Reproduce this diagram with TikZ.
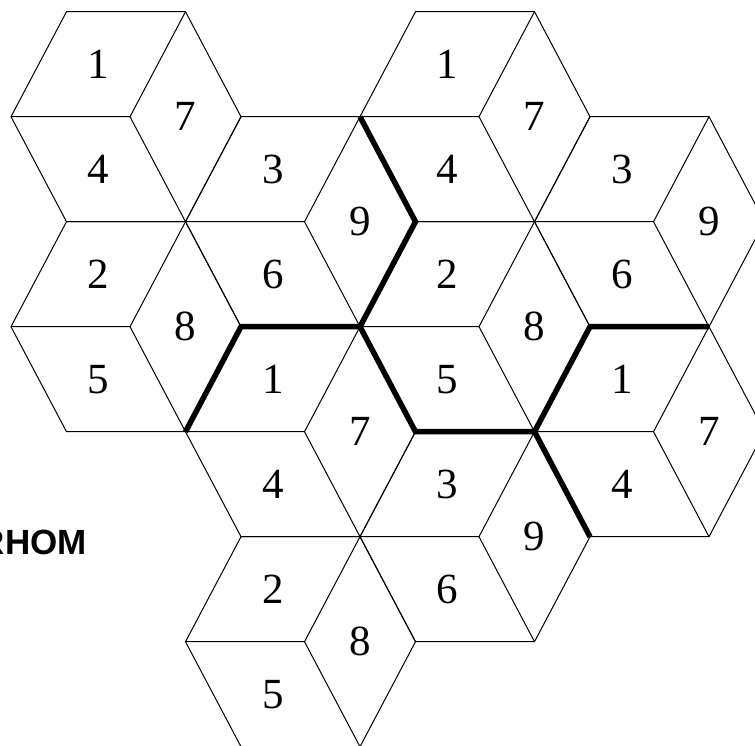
\documentclass[tikz,border=0pt]{standalone}
\usepackage{fontspec}
\setmainfont{Liberation Serif}
\newfontfamily\labelsans{Liberation Sans}
\begin{document}
\begin{tikzpicture}[x=1pt,y=-1pt,
  edge/.style={line width=1pt, line join=miter},
  heavy/.style={line width=5.5pt, line join=miter},
  digit/.style={font=\fontsize{43}{43}\selectfont, inner sep=0pt},
  caption/.style={font=\labelsans\bfseries\fontsize{35}{35}\selectfont, inner sep=0pt, anchor=base east}]
\useasboundingbox (0,0) rectangle (755,745);
\clip (0,0) rectangle (755,745);
\foreach \n/\X/\Y/\ta/\tb/\tc in {
  A1/11/116.7/1/7/4,
  B1/185.5/221.7/3/9/6,
  C1/11/326.7/2/8/5,
  A2/360/116.7/1/7/4,
  B2/534.5/221.7/3/9/6,
  C2/360/326.7/2/8/5,
  A3/185.5/431.7/1/7/4,
  B3/360/536.7/3/9/6,
  C3/185.5/641.7/2/8/5,
  A4/534.5/431.7/1/7/4}{
  \coordinate (\n-L) at (\X,\Y);
  \coordinate (\n-TL) at (\X+55.5,\Y-105);
  \coordinate (\n-TR) at (\X+174.5,\Y-105);
  \coordinate (\n-R) at (\X+230,\Y);
  \coordinate (\n-BR) at (\X+174.5,\Y+105);
  \coordinate (\n-BL) at (\X+55.5,\Y+105);
  \coordinate (\n-C) at (\X+119,\Y);
  \draw[edge] (\n-L) -- (\n-TL) -- (\n-TR) -- (\n-R) -- (\n-BR) -- (\n-BL) -- cycle;
  \draw[edge] (\n-L) -- (\n-C) -- (\n-TR) (\n-C) -- (\n-BR);
  \node[digit] (\n-top) at (\X+87.25,\Y-52.5) {\ta};
  \node[digit] (\n-right) at (\X+174.5,\Y) {\tb};
  \node[digit] (\n-bottom) at (\X+87.25,\Y+52.5) {\tc};
}
\draw[heavy] (A2-L) -- (B1-R) -- (C2-L) -- (C2-BL) -- (C2-BR) -- (A4-BL);
\draw[heavy] (A3-L) -- (A3-TL) -- (A3-TR);
\draw[heavy] (A4-L) -- (A4-TL) -- (A4-TR);
\node[caption] (rhom) at (87,554) {RHOM};
\end{tikzpicture}
\end{document}
